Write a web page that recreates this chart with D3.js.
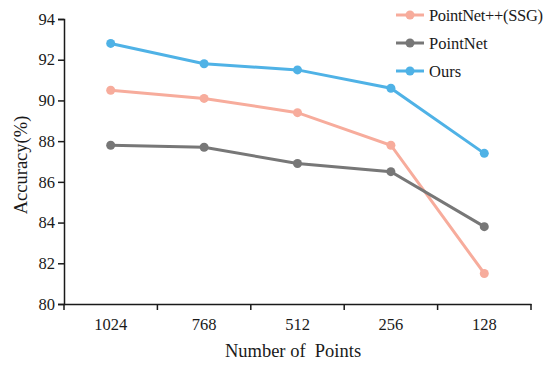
<!DOCTYPE html>
<html>
<head>
<meta charset="utf-8">
<script src="https://cdn.jsdelivr.net/npm/d3@7"></script>
<style>
  body { margin: 0; background: #fff; }
  text { font-family: "Liberation Serif", "Times New Roman", serif; fill: #1a1a1a; }
</style>
</head>
<body>
<script>
const points = ["1024", "768", "512", "256", "128"];
const seriesNames = ["PointNet++(SSG)", "PointNet", "Ours"];
const pointNetPP = [90.5, 90.1, 89.4, 87.8, 81.5];
const pointNet = [87.8, 87.7, 86.9, 86.5, 83.8];
const ours = [92.8, 91.8, 91.5, 90.6, 87.4];
const yTicks = [80, 82, 84, 86, 88, 90, 92, 94];

const series = [
  { name: seriesNames[0], values: pointNetPP, color: "#f7ac9c" },
  { name: seriesNames[1], values: pointNet, color: "#777777" },
  { name: seriesNames[2], values: ours, color: "#4fb2e6" }
];

const W = 550, H = 366;
const margin = { top: 19, right: 19, bottom: 62, left: 64 };
const width = W - margin.left - margin.right;
const height = H - margin.top - margin.bottom;

const svg = d3.select("body").append("svg")
  .attr("width", W).attr("height", H);
const g = svg.append("g")
  .attr("transform", `translate(${margin.left},${margin.top})`);

const x = d3.scaleBand().domain(points).range([0, width]);
const y = d3.scaleLinear().domain([80, 94]).range([height, 0]);

// axes
const yAxis = g.append("g").call(d3.axisLeft(y).tickValues(yTicks).tickSize(6).tickPadding(3));
const xAxis = g.append("g").attr("transform", `translate(0,${height})`)
  .call(d3.axisBottom(x).tickSize(0).tickPadding(14));
xAxis.selectAll(".tick line").remove();
// band boundary ticks
g.append("g").selectAll("line")
  .data(points.map((p) => x(p)).concat([width]))
  .join("line")
  .attr("x1", (d) => d).attr("x2", (d) => d)
  .attr("y1", height).attr("y2", height + 6)
  .attr("stroke", "#1a1a1a").attr("stroke-width", 1.5);

[yAxis, xAxis].forEach((a) => {
  a.attr("font-family", null);
  a.select(".domain").attr("stroke", "#1a1a1a").attr("stroke-width", 1.5);
  a.selectAll(".tick line").attr("stroke", "#1a1a1a").attr("stroke-width", 1.5);
  a.selectAll("text").attr("font-size", 16.5).attr("fill", "#1a1a1a");
});

const line = d3.line()
  .x((d, i) => x(points[i]) + x.bandwidth() / 2)
  .y((d) => y(d));

series.forEach((s) => {
  g.append("path")
    .datum(s.values)
    .attr("fill", "none")
    .attr("stroke", s.color)
    .attr("stroke-width", 3)
    .attr("d", line);
  g.selectAll(null)
    .data(s.values)
    .join("circle")
    .attr("cx", (d, i) => x(points[i]) + x.bandwidth() / 2)
    .attr("cy", (d) => y(d))
    .attr("r", 4.5)
    .attr("fill", s.color);
});

// axis titles
svg.append("text")
  .attr("transform", `translate(27,165) rotate(-90)`)
  .attr("text-anchor", "middle")
  .attr("font-size", 18.5)
  .text("Accuracy(%)");
svg.append("text")
  .attr("x", 293)
  .attr("y", 357)
  .attr("text-anchor", "middle")
  .attr("font-size", 18.5)
  .style("white-space", "pre")
  .text("Number of  Points");

// legend
const legend = svg.append("g").attr("transform", "translate(396,15)");
series.forEach((s, i) => {
  const row = legend.append("g").attr("transform", `translate(0,${i * 28})`);
  row.append("line").attr("x1", 0).attr("x2", 28).attr("y1", 0).attr("y2", 0)
    .attr("stroke", s.color).attr("stroke-width", 3);
  row.append("circle").attr("cx", 14).attr("cy", 0).attr("r", 4.5).attr("fill", s.color);
  row.append("text").attr("x", 33).attr("y", 6).attr("font-size", 16.5)
    .attr("textLength", s.name === seriesNames[0] ? 114 : null)
    .text(s.name);
});
</script>
</body>
</html>
